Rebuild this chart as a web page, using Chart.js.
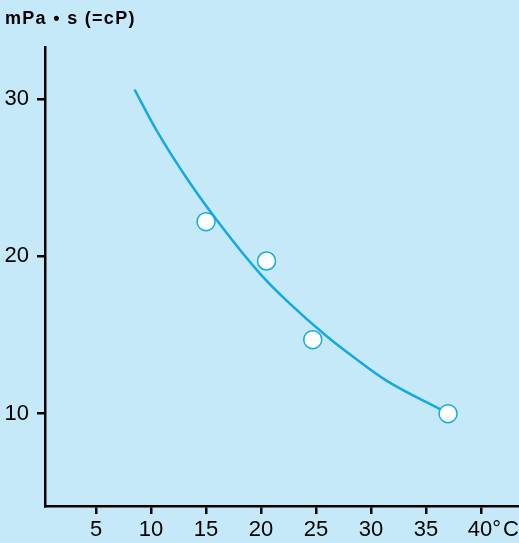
<!DOCTYPE html>
<html>
<head>
<meta charset="utf-8">
<script src="https://cdn.jsdelivr.net/npm/chart.js@4"></script>
<style>
  html, body { margin: 0; padding: 0; background: #c6e9f9; }
  canvas { display: block; }
</style>
</head>
<body>
<canvas id="viscChart" width="519" height="543"></canvas>
<script>
// measured points (temperature °C, viscosity mPa·s)
const measTemp = [15, 20.5, 24.7, 37];
const measVisc = [22.2, 19.7, 14.7, 10.0];

// fitted curve
const curveTemp = [8.5, 10.5, 13.4, 16.3, 19.9, 22.3, 26, 28.4, 31.4, 36.5];
const curveVisc = [30.6, 28.0, 24.8, 22.0, 18.9, 17.2, 14.9, 13.6, 12.1, 10.2];

const xTicks = [5, 10, 15, 20, 25, 30, 35, 40];
const yTicks = [10, 20, 30];
const unitTitle = 'mPa • s (=cP)';

const bg = '#c6e9f9';
const blue = '#12a9e6';

document.addEventListener('DOMContentLoaded', function () {
    const ctx = document.getElementById('viscChart').getContext('2d');
    new Chart(ctx, {
        type: 'scatter',
        data: {
            datasets: [{
                label: 'Measured',
                data: measTemp.map((t, i) => ({ x: t, y: measVisc[i] })),
                backgroundColor: '#ffffff',
                borderColor: blue,
                borderWidth: 1.5,
                pointRadius: 9,
                order: 1
            }, {
                label: 'Curve',
                type: 'line',
                data: curveTemp.map((t, i) => ({ x: t, y: curveVisc[i] })),
                borderColor: blue,
                borderWidth: 2.5,
                pointRadius: 0,
                cubicInterpolationMode: 'monotone',
                fill: false,
                order: 2
            }]
        },
        options: {
            responsive: false,
            animation: false,
            clip: false,
            layout: { autoPadding: false, padding: { top: 47, left: 0, right: 0, bottom: 0 } },
            plugins: {
                legend: { display: false },
                tooltip: { enabled: false },
                title: { display: false }
            },
            scales: {
                x: {
                    type: 'linear',
                    min: 0.36,
                    max: 43.45,
                    afterFit: s => { s.height = 37; s.paddingLeft = 0; s.paddingRight = 0; },
                    afterBuildTicks: s => { s.ticks = xTicks.map(v => ({ value: v })); },
                    border: { display: true, color: '#000', width: 2.5 },
                    grid: { display: true, drawOnChartArea: false, tickLength: 8, color: '#000', lineWidth: 2.5 },
                    ticks: {
                        color: '#000',
                        padding: 3,
                        maxRotation: 0,
                        autoSkip: false,
                        font: { family: 'Liberation Sans', size: 22 },
                        callback: v => v === 40 ? '\u2007\u200740°\u200aC' : String(v)
                    }
                },
                y: {
                    type: 'linear',
                    min: 4.13,
                    max: 33.3,
                    afterFit: s => { s.width = 45; s.paddingTop = 0; s.paddingBottom = 0; },
                    afterBuildTicks: s => { s.ticks = yTicks.map(v => ({ value: v })); },
                    border: { display: true, color: '#000', width: 2.5 },
                    grid: { display: true, drawOnChartArea: false, tickLength: 8, color: '#000', lineWidth: 2.5 },
                    ticks: {
                        color: '#000',
                        padding: 8,
                        font: { family: 'Liberation Sans', size: 22 }
                    }
                }
            }
        },
        plugins: [{
            id: 'bgFill',
            beforeDraw(chart) {
                const c = chart.ctx;
                c.save();
                c.fillStyle = bg;
                c.fillRect(0, 0, chart.width, chart.height);
                c.restore();
            },
            afterDraw(chart) {
                const c = chart.ctx;
                c.save();
                c.fillStyle = '#000';
                c.font = 'bold 18px "Liberation Sans"';
                c.letterSpacing = '1.3px';
                c.textBaseline = 'alphabetic';
                c.textAlign = 'left';
                c.fillText(unitTitle, 5, 24);
                c.restore();
            }
        }]
    });
});
</script>
</body>
</html>
